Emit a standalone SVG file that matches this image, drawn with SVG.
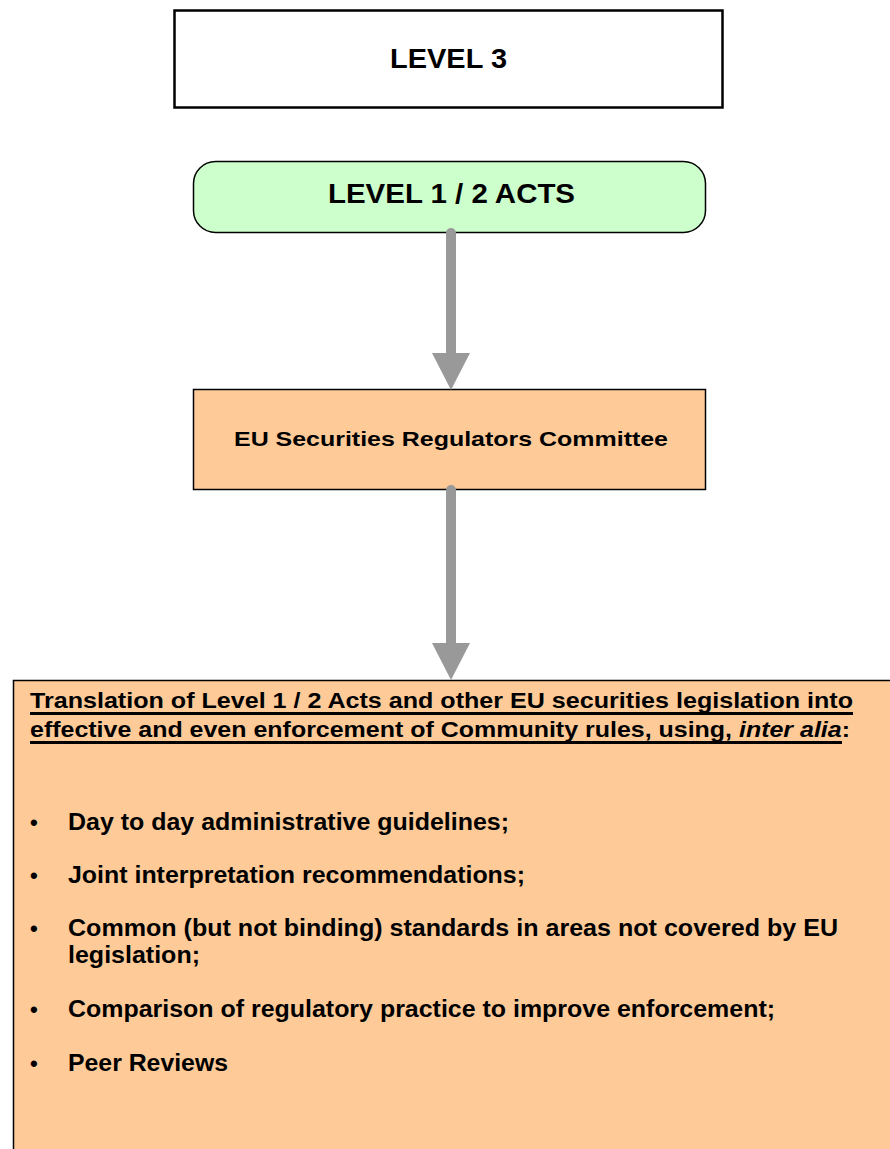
<svg xmlns="http://www.w3.org/2000/svg" width="890" height="1149" viewBox="0 0 890 1149">
  <style>
    .t { font-family: "Liberation Sans", Arial, sans-serif; font-weight: bold; fill: #000; }
    .box { stroke: #000; stroke-width: 1.5; }
    .orange { fill: #FECB98; }
    .shaft { stroke: #999999; stroke-width: 10; stroke-linecap: round; fill: none; }
    .head { fill: #999999; }
    .bullet { font-family: "Liberation Sans", Arial, sans-serif; font-weight: bold; font-size: 22px; fill: #000; }
  </style>
  <rect width="890" height="1149" fill="#FFFFFF"/>

  <!-- Level 3 title -->
  <g id="level3">
    <rect x="174.5" y="10.5" width="548" height="97" fill="#FFFFFF" stroke="#000" stroke-width="2.5"/>
    <text class="t" x="390" y="68" font-size="28" textLength="117" lengthAdjust="spacingAndGlyphs">LEVEL 3</text>
  </g>

  <!-- Level 1 / 2 acts -->
  <g id="acts">
    <rect class="box" x="193.5" y="161.5" width="512" height="71" rx="22" ry="22" fill="#CCFFCC"/>
    <text class="t" x="328" y="203" font-size="28" textLength="247" lengthAdjust="spacingAndGlyphs">LEVEL 1 / 2 ACTS</text>
  </g>

  <!-- Committee -->
  <g id="committee">
    <rect class="box orange" x="193.5" y="389.5" width="512" height="100"/>
    <text class="t" x="451" y="446" font-size="21" text-anchor="middle" textLength="434" lengthAdjust="spacingAndGlyphs">EU Securities Regulators Committee</text>
  </g>

  <!-- Enforcement tasks -->
  <g id="tasks">
    <rect class="box orange" x="13.5" y="680.5" width="890" height="480"/>
    <text class="t" x="30" y="708" font-size="22" textLength="823" lengthAdjust="spacingAndGlyphs">Translation of Level 1 / 2 Acts and other EU securities legislation into</text>
    <rect x="30" y="712" width="823" height="3" fill="#000"/>
    <text class="t" x="30" y="737" font-size="22" textLength="820" lengthAdjust="spacingAndGlyphs">effective and even enforcement of Community rules, using, <tspan font-style="italic">inter alia</tspan>:</text>
    <rect x="30" y="741" width="812" height="3" fill="#000"/>

    <g>
      <text class="bullet" x="30" y="830">•</text>
      <text class="bullet" x="30" y="883">•</text>
      <text class="bullet" x="30" y="936">•</text>
      <text class="bullet" x="30" y="1017">•</text>
      <text class="bullet" x="30" y="1071">•</text>
    </g>
    <g font-size="23" class="t">
      <text x="68" y="830" textLength="441" lengthAdjust="spacingAndGlyphs">Day to day administrative guidelines;</text>
      <text x="68" y="883" textLength="457" lengthAdjust="spacingAndGlyphs">Joint interpretation recommendations;</text>
      <text x="68" y="936" textLength="770" lengthAdjust="spacingAndGlyphs">Common (but not binding) standards in areas not covered by EU</text>
      <text x="68" y="963" textLength="132" lengthAdjust="spacingAndGlyphs">legislation;</text>
      <text x="68" y="1017" textLength="707" lengthAdjust="spacingAndGlyphs">Comparison of regulatory practice to improve enforcement;</text>
      <text x="68" y="1071" textLength="160" lengthAdjust="spacingAndGlyphs">Peer Reviews</text>
    </g>
  </g>

  <!-- Connectors -->
  <g id="connectors">
    <line class="shaft" x1="451" y1="233" x2="451" y2="356"/>
    <polygon class="head" points="432,353 470,353 451,390"/>
    <line class="shaft" x1="451" y1="490" x2="451" y2="646"/>
    <polygon class="head" points="432,643 470,643 451,680"/>
  </g>
</svg>
